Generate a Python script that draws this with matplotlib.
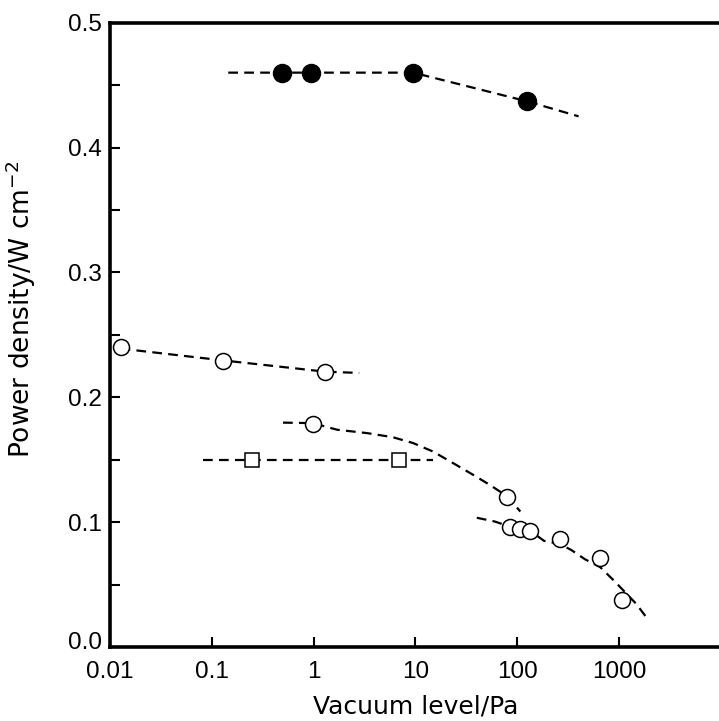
import matplotlib
matplotlib.use("Agg")
import matplotlib.pyplot as plt
from matplotlib.ticker import FixedLocator, FixedFormatter, NullLocator
from matplotlib.transforms import ScaledTranslation

# ---- data ----
filled_x = [0.49, 0.94, 9.5, 125]
filled_y = [0.46, 0.46, 0.46, 0.437]
filled_fit_x = [0.145, 0.49, 0.94, 9.5, 125, 400]
filled_fit_y = [0.46, 0.46, 0.46, 0.46, 0.437, 0.425]

open1_x = [0.0127, 0.13, 1.3]
open1_y = [0.24, 0.229, 0.22]
open1_fit_x = [0.0127, 0.13, 1.3, 2.8]
open1_fit_y = [0.239, 0.2295, 0.2205, 0.2195]

open2_x = [0.98, 80]
open2_y = [0.179, 0.1205]
open2_fit_x = [0.5, 0.98, 1.7, 3.35, 6.0, 9.5, 14.9, 23.5, 36.8, 54, 80, 107]
open2_fit_y = [0.1797, 0.1793, 0.174, 0.1713, 0.168, 0.1633, 0.1565, 0.1472,
               0.1379, 0.1297, 0.1205, 0.1085]

square_x = [0.25, 6.9]
square_y = [0.15, 0.15]
square_fit_x = [0.082, 15]
square_fit_y = [0.15, 0.15]

open3_x = [84, 107, 134, 260, 655, 1060]
open3_y = [0.0965, 0.0948, 0.093, 0.0864, 0.0716, 0.0378]
open3_fit_x = [40, 60, 84, 107, 134, 183, 260, 337, 463, 650, 893, 1469, 1928]
open3_fit_y = [0.1035, 0.1005, 0.0965, 0.0948, 0.093, 0.085, 0.0825, 0.0778,
               0.0702, 0.064, 0.053, 0.0346, 0.0218]

x_ticks = [0.01, 0.1, 1, 10, 100, 1000]
x_tick_labels = ["0.01", "0.1", "1", "10", "100", "1000"]
y_ticks = [0.0, 0.1, 0.2, 0.3, 0.4, 0.5]
y_tick_labels = ["0.0", "0.1", "0.2", "0.3", "0.4", "0.5"]
y_minor = [0.05, 0.15, 0.25, 0.35, 0.45]

x_label = "Vacuum level/Pa"
y_label = r"Power density/W cm$^{-2}$"

# ---- plot ----
plt.rcParams["font.family"] = ["Liberation Sans", "DejaVu Sans"]
plt.rcParams["mathtext.fontset"] = "dejavusans"
plt.rcParams["lines.scale_dashes"] = False

W, H = 719, 721
fig = plt.figure(figsize=(W / 100, H / 100), dpi=100)
ax = fig.add_axes([110 / W, (H - 647) / H, 611 / W, 624.3 / H])

dash = (0, (7, 4.5))
lw = 1.6
for fx, fy in [(filled_fit_x, filled_fit_y), (open1_fit_x, open1_fit_y),
               (open2_fit_x, open2_fit_y), (square_fit_x, square_fit_y),
               (open3_fit_x, open3_fit_y)]:
    ax.plot(fx, fy, color="black", lw=lw, linestyle=dash, zorder=2)

ax.plot(filled_x, filled_y, "o", ms=13, mfc="black", mec="black", zorder=3,
        clip_on=False)
for ox, oy in [(open1_x, open1_y), (open2_x, open2_y), (open3_x, open3_y)]:
    ax.plot(ox, oy, "o", ms=11.5, mfc="white", mec="black", mew=1.1,
            zorder=3, clip_on=False)
ax.plot(square_x, square_y, "s", ms=9.5, mfc="white", mec="black", mew=1.1,
        zorder=3)

ax.set_xscale("log")
ax.set_xlim(0.01, 10000)
ax.set_ylim(0.0, 0.5)

ax.xaxis.set_major_locator(FixedLocator(x_ticks))
ax.xaxis.set_major_formatter(FixedFormatter(x_tick_labels))
ax.xaxis.set_minor_locator(NullLocator())
ax.yaxis.set_major_locator(FixedLocator(y_ticks))
ax.yaxis.set_major_formatter(FixedFormatter(y_tick_labels))
ax.yaxis.set_minor_locator(FixedLocator(y_minor))

ax.tick_params(axis="both", which="both", direction="in", length=7.5,
               width=1.5, labelsize=17.5, color="black")
ax.tick_params(axis="x", pad=10)
ax.tick_params(axis="y", pad=6)

for s in ["left", "bottom", "top"]:
    ax.spines[s].set_linewidth(2.6)
ax.spines["right"].set_visible(False)

ax.set_xlabel(x_label, fontsize=18, family="DejaVu Sans")
ax.set_ylabel(y_label, fontsize=19, family="DejaVu Sans")
ax.xaxis.set_label_coords(0.5, -0.076)
ax.yaxis.set_label_coords(-0.118, 0.54)

# lift the "0.0" label slightly, as in the reference
fig.canvas.draw()
lab0 = ax.yaxis.get_major_ticks()[0].label1
lab0.set_transform(lab0.get_transform() + ScaledTranslation(0, 5 / 72, fig.dpi_scale_trans))

fig.savefig("out.png", dpi=100)
